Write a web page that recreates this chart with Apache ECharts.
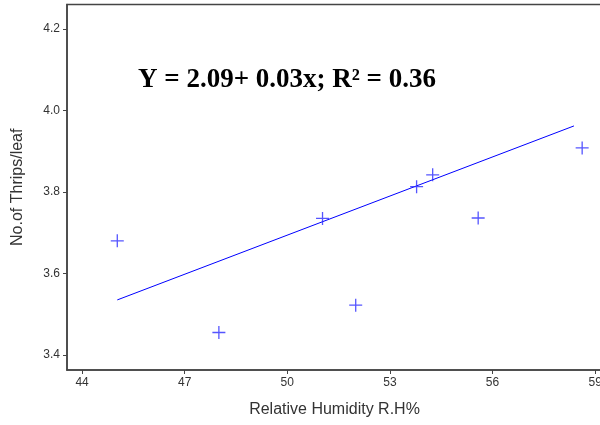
<!DOCTYPE html>
<html>
<head>
<meta charset="utf-8">
<script src="https://cdn.jsdelivr.net/npm/echarts@6/dist/echarts.min.js"></script>
<style>
  html, body { margin: 0; padding: 0; background: #fff; }
  #chart { width: 600px; height: 425px; }
</style>
</head>
<body>
<div id="chart"></div>
<script>
// observed points (R.H%, thrips per leaf)
var humidity = [45.03, 48.0, 51.03, 52.0, 53.78, 54.25, 55.58, 58.62];
var thrips = [3.680, 3.455, 3.735, 3.522, 3.813, 3.842, 3.736, 3.908];
// fitted line end points
var fitX = [45.03, 58.38];
var fitY = [3.535, 3.962];
var xTicks = [44, 47, 50, 53, 56, 59];
var yTicks = [3.4, 3.6, 3.8, 4.0, 4.2];
var equation = 'Y = 2.09+ 0.03x; R\u00B2 = 0.36';

var chart = echarts.init(document.getElementById('chart'));

var pts = humidity.map(function (x, i) { return [x, thrips[i]]; });
var fit = fitX.map(function (x, i) { return [x, fitY[i]]; });

var axisColor = '#444';
var labelFont = 'Liberation Sans';

chart.setOption({
  backgroundColor: '#fff',
  animation: false,
  grid: {
    left: 67,
    top: 4.5,
    right: -2,
    bottom: 55,
    outerBoundsMode: 'none',
    containLabel: false,
    show: true,
    borderColor: axisColor,
    borderWidth: 1.5
  },
  xAxis: {
    type: 'value',
    min: 43.56,
    max: 59.2,
    name: 'Relative Humidity R.H%',
    nameLocation: 'middle',
    nameGap: 32,
    nameTextStyle: { fontFamily: labelFont, fontSize: 16, color: '#333' },
    splitLine: { show: false },
    axisLine: { lineStyle: { color: axisColor, width: 1.5 } },
    axisTick: { customValues: xTicks, length: 4, lineStyle: { color: axisColor } },
    axisLabel: {
      customValues: xTicks,
      margin: 7,
      fontFamily: labelFont,
      fontSize: 12,
      color: '#333'
    }
  },
  yAxis: {
    type: 'value',
    min: 3.363,
    max: 4.26,
    name: 'No.of Thrips/leaf',
    nameLocation: 'middle',
    nameGap: 41,
    nameTextStyle: { fontFamily: labelFont, fontSize: 16, color: '#333' },
    splitLine: { show: false },
    axisLine: { lineStyle: { color: axisColor, width: 1.5 } },
    axisTick: { customValues: yTicks, length: 4, lineStyle: { color: axisColor } },
    axisLabel: {
      customValues: yTicks,
      margin: 7,
      fontFamily: labelFont,
      fontSize: 12,
      color: '#333',
      formatter: function (v) { return v.toFixed(1); }
    }
  },
  graphic: [{
    type: 'text',
    left: 138,
    top: 67,
    style: {
      text: equation,
      font: 'bold 27px "Liberation Serif"',
      fill: '#000'
    }
  }],
  series: [{
    type: 'line',
    data: fit,
    symbol: 'none',
    lineStyle: { color: '#0000ff', width: 1 },
    z: 2
  }, {
    type: 'scatter',
    data: pts,
    symbol: 'path://M0,6.3 L14,6.3 L14,7.7 L0,7.7 Z M6.3,0 L7.7,0 L7.7,14 L6.3,14 Z',
    symbolSize: 13,
    itemStyle: { color: '#2a2aff' },
    z: 3
  }]
});
</script>
</body>
</html>
